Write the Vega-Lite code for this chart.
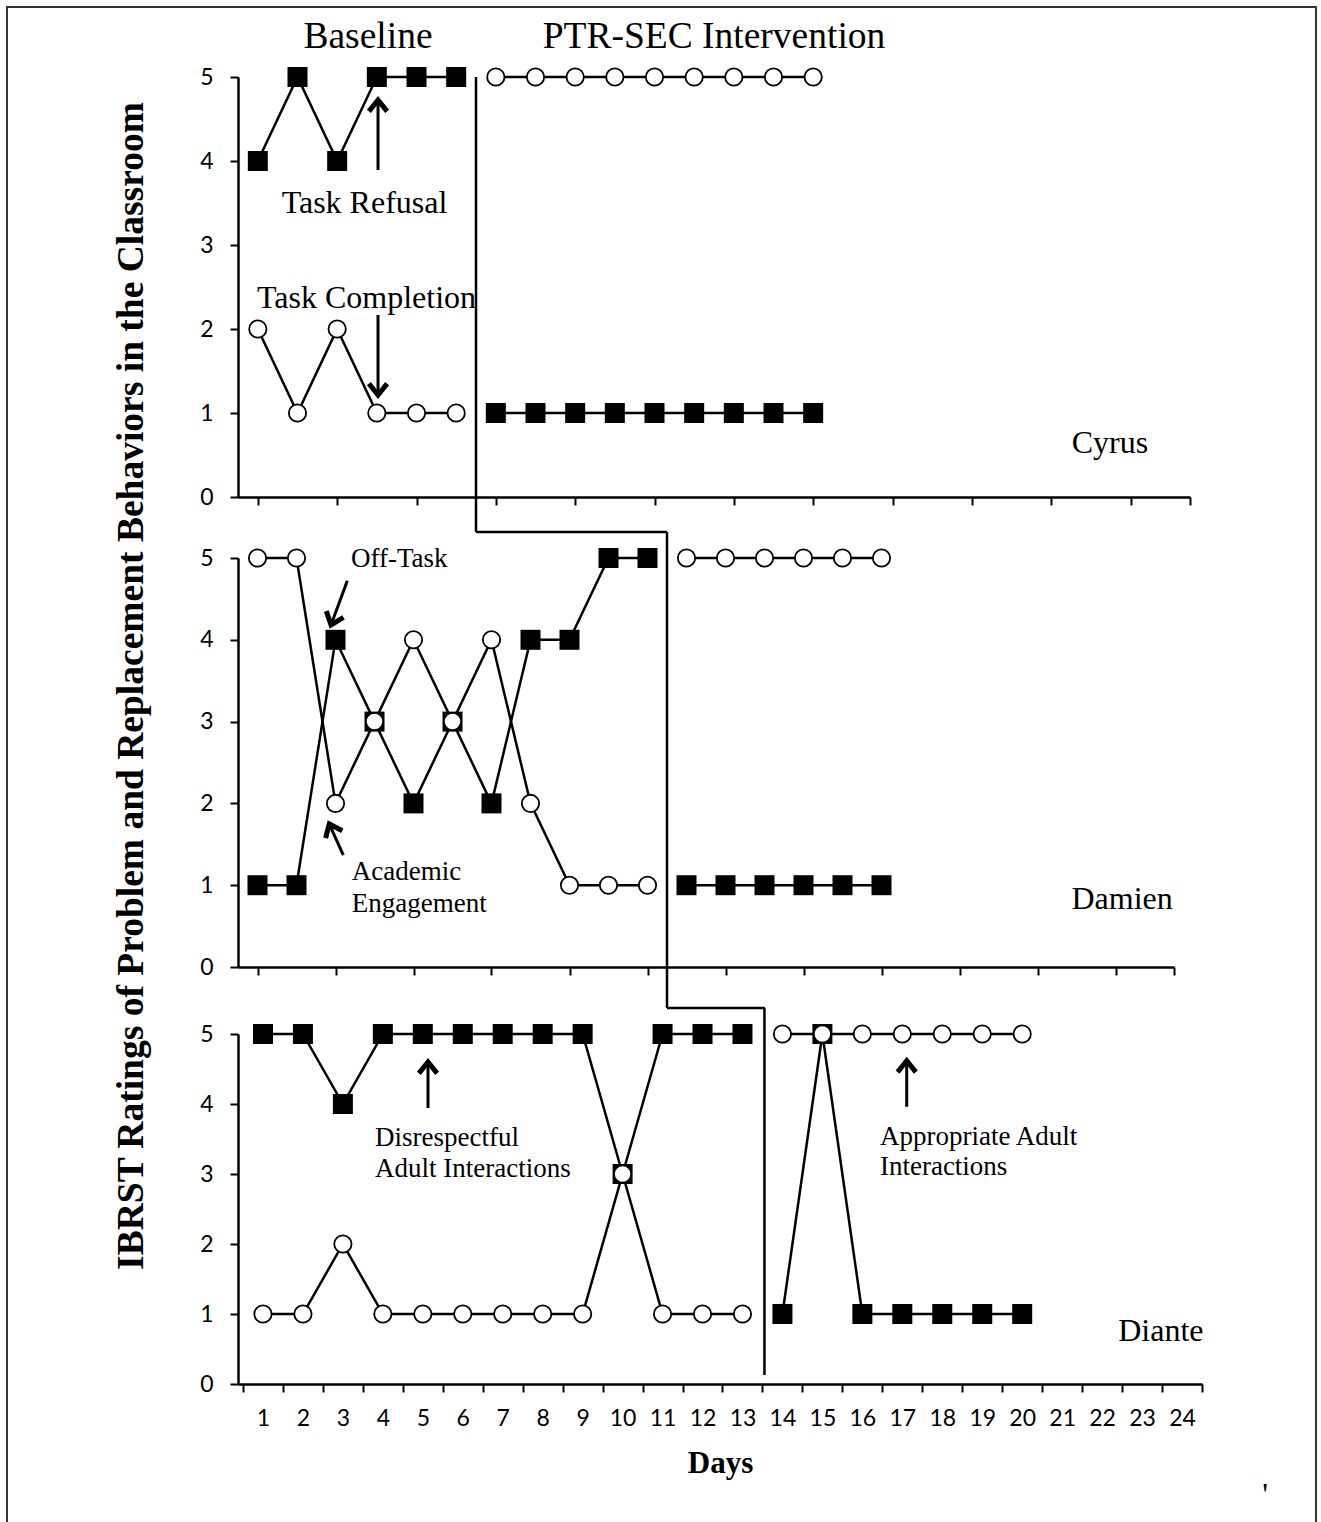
{
  "$schema": "https://vega.github.io/schema/vega-lite/v6.json",
  "padding": 6,
  "background": "white",
  "config": {
    "view": {"stroke": null},
    "axis": {"domainColor": "black", "domainWidth": 2.5, "tickColor": "black", "tickWidth": 2, "tickSize": 8, "labelFont": "Lato", "labelFontSize": 23, "labelColor": "black", "grid": false, "labelFlush": false, "labelOverlap": false}
  },
  "datasets": {
    "series": [
      {"student": "Cyrus", "behavior": "problem", "phase": "baseline", "day": 1, "rating": 4},
      {"student": "Cyrus", "behavior": "problem", "phase": "baseline", "day": 2, "rating": 5},
      {"student": "Cyrus", "behavior": "problem", "phase": "baseline", "day": 3, "rating": 4},
      {"student": "Cyrus", "behavior": "problem", "phase": "baseline", "day": 4, "rating": 5},
      {"student": "Cyrus", "behavior": "problem", "phase": "baseline", "day": 5, "rating": 5},
      {"student": "Cyrus", "behavior": "problem", "phase": "baseline", "day": 6, "rating": 5},
      {"student": "Cyrus", "behavior": "problem", "phase": "intervention", "day": 7, "rating": 1},
      {"student": "Cyrus", "behavior": "problem", "phase": "intervention", "day": 8, "rating": 1},
      {"student": "Cyrus", "behavior": "problem", "phase": "intervention", "day": 9, "rating": 1},
      {"student": "Cyrus", "behavior": "problem", "phase": "intervention", "day": 10, "rating": 1},
      {"student": "Cyrus", "behavior": "problem", "phase": "intervention", "day": 11, "rating": 1},
      {"student": "Cyrus", "behavior": "problem", "phase": "intervention", "day": 12, "rating": 1},
      {"student": "Cyrus", "behavior": "problem", "phase": "intervention", "day": 13, "rating": 1},
      {"student": "Cyrus", "behavior": "problem", "phase": "intervention", "day": 14, "rating": 1},
      {"student": "Cyrus", "behavior": "problem", "phase": "intervention", "day": 15, "rating": 1},
      {"student": "Cyrus", "behavior": "replacement", "phase": "baseline", "day": 1, "rating": 2},
      {"student": "Cyrus", "behavior": "replacement", "phase": "baseline", "day": 2, "rating": 1},
      {"student": "Cyrus", "behavior": "replacement", "phase": "baseline", "day": 3, "rating": 2},
      {"student": "Cyrus", "behavior": "replacement", "phase": "baseline", "day": 4, "rating": 1},
      {"student": "Cyrus", "behavior": "replacement", "phase": "baseline", "day": 5, "rating": 1},
      {"student": "Cyrus", "behavior": "replacement", "phase": "baseline", "day": 6, "rating": 1},
      {"student": "Cyrus", "behavior": "replacement", "phase": "intervention", "day": 7, "rating": 5},
      {"student": "Cyrus", "behavior": "replacement", "phase": "intervention", "day": 8, "rating": 5},
      {"student": "Cyrus", "behavior": "replacement", "phase": "intervention", "day": 9, "rating": 5},
      {"student": "Cyrus", "behavior": "replacement", "phase": "intervention", "day": 10, "rating": 5},
      {"student": "Cyrus", "behavior": "replacement", "phase": "intervention", "day": 11, "rating": 5},
      {"student": "Cyrus", "behavior": "replacement", "phase": "intervention", "day": 12, "rating": 5},
      {"student": "Cyrus", "behavior": "replacement", "phase": "intervention", "day": 13, "rating": 5},
      {"student": "Cyrus", "behavior": "replacement", "phase": "intervention", "day": 14, "rating": 5},
      {"student": "Cyrus", "behavior": "replacement", "phase": "intervention", "day": 15, "rating": 5},
      {"student": "Damien", "behavior": "problem", "phase": "baseline", "day": 1, "rating": 1},
      {"student": "Damien", "behavior": "problem", "phase": "baseline", "day": 2, "rating": 1},
      {"student": "Damien", "behavior": "problem", "phase": "baseline", "day": 3, "rating": 4},
      {"student": "Damien", "behavior": "problem", "phase": "baseline", "day": 4, "rating": 3},
      {"student": "Damien", "behavior": "problem", "phase": "baseline", "day": 5, "rating": 2},
      {"student": "Damien", "behavior": "problem", "phase": "baseline", "day": 6, "rating": 3},
      {"student": "Damien", "behavior": "problem", "phase": "baseline", "day": 7, "rating": 2},
      {"student": "Damien", "behavior": "problem", "phase": "baseline", "day": 8, "rating": 4},
      {"student": "Damien", "behavior": "problem", "phase": "baseline", "day": 9, "rating": 4},
      {"student": "Damien", "behavior": "problem", "phase": "baseline", "day": 10, "rating": 5},
      {"student": "Damien", "behavior": "problem", "phase": "baseline", "day": 11, "rating": 5},
      {"student": "Damien", "behavior": "problem", "phase": "intervention", "day": 12, "rating": 1},
      {"student": "Damien", "behavior": "problem", "phase": "intervention", "day": 13, "rating": 1},
      {"student": "Damien", "behavior": "problem", "phase": "intervention", "day": 14, "rating": 1},
      {"student": "Damien", "behavior": "problem", "phase": "intervention", "day": 15, "rating": 1},
      {"student": "Damien", "behavior": "problem", "phase": "intervention", "day": 16, "rating": 1},
      {"student": "Damien", "behavior": "problem", "phase": "intervention", "day": 17, "rating": 1},
      {"student": "Damien", "behavior": "replacement", "phase": "baseline", "day": 1, "rating": 5},
      {"student": "Damien", "behavior": "replacement", "phase": "baseline", "day": 2, "rating": 5},
      {"student": "Damien", "behavior": "replacement", "phase": "baseline", "day": 3, "rating": 2},
      {"student": "Damien", "behavior": "replacement", "phase": "baseline", "day": 4, "rating": 3},
      {"student": "Damien", "behavior": "replacement", "phase": "baseline", "day": 5, "rating": 4},
      {"student": "Damien", "behavior": "replacement", "phase": "baseline", "day": 6, "rating": 3},
      {"student": "Damien", "behavior": "replacement", "phase": "baseline", "day": 7, "rating": 4},
      {"student": "Damien", "behavior": "replacement", "phase": "baseline", "day": 8, "rating": 2},
      {"student": "Damien", "behavior": "replacement", "phase": "baseline", "day": 9, "rating": 1},
      {"student": "Damien", "behavior": "replacement", "phase": "baseline", "day": 10, "rating": 1},
      {"student": "Damien", "behavior": "replacement", "phase": "baseline", "day": 11, "rating": 1},
      {"student": "Damien", "behavior": "replacement", "phase": "intervention", "day": 12, "rating": 5},
      {"student": "Damien", "behavior": "replacement", "phase": "intervention", "day": 13, "rating": 5},
      {"student": "Damien", "behavior": "replacement", "phase": "intervention", "day": 14, "rating": 5},
      {"student": "Damien", "behavior": "replacement", "phase": "intervention", "day": 15, "rating": 5},
      {"student": "Damien", "behavior": "replacement", "phase": "intervention", "day": 16, "rating": 5},
      {"student": "Damien", "behavior": "replacement", "phase": "intervention", "day": 17, "rating": 5},
      {"student": "Diante", "behavior": "problem", "phase": "baseline", "day": 1, "rating": 5},
      {"student": "Diante", "behavior": "problem", "phase": "baseline", "day": 2, "rating": 5},
      {"student": "Diante", "behavior": "problem", "phase": "baseline", "day": 3, "rating": 4},
      {"student": "Diante", "behavior": "problem", "phase": "baseline", "day": 4, "rating": 5},
      {"student": "Diante", "behavior": "problem", "phase": "baseline", "day": 5, "rating": 5},
      {"student": "Diante", "behavior": "problem", "phase": "baseline", "day": 6, "rating": 5},
      {"student": "Diante", "behavior": "problem", "phase": "baseline", "day": 7, "rating": 5},
      {"student": "Diante", "behavior": "problem", "phase": "baseline", "day": 8, "rating": 5},
      {"student": "Diante", "behavior": "problem", "phase": "baseline", "day": 9, "rating": 5},
      {"student": "Diante", "behavior": "problem", "phase": "baseline", "day": 10, "rating": 3},
      {"student": "Diante", "behavior": "problem", "phase": "baseline", "day": 11, "rating": 5},
      {"student": "Diante", "behavior": "problem", "phase": "baseline", "day": 12, "rating": 5},
      {"student": "Diante", "behavior": "problem", "phase": "baseline", "day": 13, "rating": 5},
      {"student": "Diante", "behavior": "problem", "phase": "intervention", "day": 14, "rating": 1},
      {"student": "Diante", "behavior": "problem", "phase": "intervention", "day": 15, "rating": 5},
      {"student": "Diante", "behavior": "problem", "phase": "intervention", "day": 16, "rating": 1},
      {"student": "Diante", "behavior": "problem", "phase": "intervention", "day": 17, "rating": 1},
      {"student": "Diante", "behavior": "problem", "phase": "intervention", "day": 18, "rating": 1},
      {"student": "Diante", "behavior": "problem", "phase": "intervention", "day": 19, "rating": 1},
      {"student": "Diante", "behavior": "problem", "phase": "intervention", "day": 20, "rating": 1},
      {"student": "Diante", "behavior": "replacement", "phase": "baseline", "day": 1, "rating": 1},
      {"student": "Diante", "behavior": "replacement", "phase": "baseline", "day": 2, "rating": 1},
      {"student": "Diante", "behavior": "replacement", "phase": "baseline", "day": 3, "rating": 2},
      {"student": "Diante", "behavior": "replacement", "phase": "baseline", "day": 4, "rating": 1},
      {"student": "Diante", "behavior": "replacement", "phase": "baseline", "day": 5, "rating": 1},
      {"student": "Diante", "behavior": "replacement", "phase": "baseline", "day": 6, "rating": 1},
      {"student": "Diante", "behavior": "replacement", "phase": "baseline", "day": 7, "rating": 1},
      {"student": "Diante", "behavior": "replacement", "phase": "baseline", "day": 8, "rating": 1},
      {"student": "Diante", "behavior": "replacement", "phase": "baseline", "day": 9, "rating": 1},
      {"student": "Diante", "behavior": "replacement", "phase": "baseline", "day": 10, "rating": 3},
      {"student": "Diante", "behavior": "replacement", "phase": "baseline", "day": 11, "rating": 1},
      {"student": "Diante", "behavior": "replacement", "phase": "baseline", "day": 12, "rating": 1},
      {"student": "Diante", "behavior": "replacement", "phase": "baseline", "day": 13, "rating": 1},
      {"student": "Diante", "behavior": "replacement", "phase": "intervention", "day": 14, "rating": 5},
      {"student": "Diante", "behavior": "replacement", "phase": "intervention", "day": 15, "rating": 5},
      {"student": "Diante", "behavior": "replacement", "phase": "intervention", "day": 16, "rating": 5},
      {"student": "Diante", "behavior": "replacement", "phase": "intervention", "day": 17, "rating": 5},
      {"student": "Diante", "behavior": "replacement", "phase": "intervention", "day": 18, "rating": 5},
      {"student": "Diante", "behavior": "replacement", "phase": "intervention", "day": 19, "rating": 5},
      {"student": "Diante", "behavior": "replacement", "phase": "intervention", "day": 20, "rating": 5}
    ],
    "phaseLines": [
      {"student": "Cyrus", "x": 6.5, "y": 5, "x2": 6.5, "y2": -0.417},
      {"student": "Cyrus", "x": 6.5, "y": -0.417, "x2": 11.315, "y2": -0.417},
      {"student": "Damien", "x": 11.5, "y": 5.318, "x2": 11.5, "y2": -0.501},
      {"student": "Damien", "x": 11.5, "y": -0.501, "x2": 14.01, "y2": -0.501},
      {"student": "Diante", "x": 13.55, "y": 5.371, "x2": 13.55, "y2": 0.129}
    ],
    "frame": [
      {"x": -5.3235, "x2": 27.676, "y": 5.833, "y2": -12.226}
    ],
    "notes": [
      {"student": "Cyrus", "kind": "phase", "text": "Baseline", "x": 3.777, "y": 5.345},
      {"student": "Cyrus", "kind": "phase", "text": "PTR-SEC Intervention", "x": 12.5, "y": 5.345},
      {"student": "Cyrus", "kind": "behavior", "text": "Task Refusal", "x": 3.689, "y": 3.381},
      {"student": "Cyrus", "kind": "behavior", "text": "Task Completion", "x": 3.739, "y": 2.25},
      {"student": "Cyrus", "kind": "name", "text": "Cyrus", "x": 22.48, "y": 0.524},
      {"student": "Damien", "kind": "behavior", "text": "Off-Task", "x": 3.397, "y": 4.89},
      {"student": "Damien", "kind": "behavior", "text": "Academic", "x": 3.415, "y": 1.064},
      {"student": "Damien", "kind": "behavior", "text": "Engagement", "x": 3.415, "y": 0.672},
      {"student": "Damien", "kind": "name", "text": "Damien", "x": 23.17, "y": 0.709},
      {"student": "Damien", "kind": "axisTitle", "text": "IBRST Ratings of Problem and Replacement Behaviors in the Classroom", "x": -2.218, "y": 3.435},
      {"student": "Diante", "kind": "behavior", "text": "Disrespectful", "x": 3.803, "y": 3.4},
      {"student": "Diante", "kind": "behavior", "text": "Adult Interactions", "x": 3.803, "y": 2.957},
      {"student": "Diante", "kind": "behavior", "text": "Appropriate Adult", "x": 16.44, "y": 3.414},
      {"student": "Diante", "kind": "behavior", "text": "Interactions", "x": 16.44, "y": 2.986},
      {"student": "Diante", "kind": "name", "text": "Diante", "x": 23.47, "y": 0.614},
      {"student": "Diante", "kind": "stray", "text": "'", "x": 26.08, "y": -1.73}
    ],
    "arrows": [
      {"student": "Cyrus", "id": "refusal", "x": 4.03, "y": 3.893, "x2": 4.03, "y2": 4.726},
      {"student": "Cyrus", "id": "completion", "x": 4.03, "y": 2.167, "x2": 4.03, "y2": 1.214},
      {"student": "Damien", "id": "offtask", "x": 3.303, "y": 4.723, "x2": 2.885, "y2": 4.181},
      {"student": "Damien", "id": "engagement", "x": 3.2, "y": 1.369, "x2": 2.841, "y2": 1.748},
      {"student": "Diante", "id": "disrespect", "x": 5.13, "y": 3.943, "x2": 5.13, "y2": 4.6},
      {"student": "Diante", "id": "appropriate", "x": 17.11, "y": 3.961, "x2": 17.11, "y2": 4.619}
    ]
  },
  "spacing": 61,
  "bounds": "flush",
  "vconcat": [
    {
      "width": 952,
      "height": 420,
      "layer": [
        {
          "data": {"name": "frame"},
          "mark": {"type": "rect", "filled": false, "stroke": "#333333", "strokeWidth": 2, "clip": false},
          "encoding": {
            "x": {"field": "x", "type": "quantitative", "scale": {"domain": [0.5, 24.5], "nice": false, "zero": false}, "axis": {"title": null}},
            "x2": {"field": "x2"},
            "y": {"field": "y", "type": "quantitative", "scale": {"domain": [0, 5], "nice": false, "zero": false}, "axis": {"title": null}},
            "y2": {"field": "y2"}
          }
        },
        {
          "data": {"name": "series"},
          "transform": [{"filter": "datum.student === 'Cyrus'"}],
          "mark": {"type": "line", "color": "black", "strokeWidth": 2.5, "clip": false},
          "encoding": {
            "x": {"field": "day", "type": "quantitative", "scale": {"domain": [0.5, 24.5], "nice": false, "zero": false}, "axis": {"values": [1,2,3,4,5,6,7,8,9,10,11,12,13,14,15,16,17,18,19,20,21,22,23,24,24.5], "labels": false, "title": null}},
            "y": {"field": "rating", "type": "quantitative", "scale": {"domain": [0, 5], "nice": false, "zero": false}, "axis": {"values": [0,1,2,3,4,5], "format": "d", "title": null, "labelPadding": 17}},
            "detail": [{"field": "behavior"}, {"field": "phase"}]
          }
        },
        {
          "data": {"name": "phaseLines"},
          "transform": [{"filter": "datum.student === 'Cyrus'"}],
          "mark": {"type": "rule", "color": "black", "strokeWidth": 2.5, "clip": false},
          "encoding": {
            "x": {"field": "x", "type": "quantitative", "scale": {"domain": [0.5, 24.5], "nice": false, "zero": false}, "axis": {"title": null}},
            "x2": {"field": "x2"},
            "y": {"field": "y", "type": "quantitative", "scale": {"domain": [0, 5], "nice": false, "zero": false}, "axis": {"title": null}},
            "y2": {"field": "y2"}
          }
        },
        {
          "data": {"name": "series"},
          "transform": [{"filter": "datum.student === 'Cyrus' && datum.behavior === 'problem'"}],
          "mark": {"type": "point", "shape": "square", "filled": true, "color": "black", "opacity": 1, "size": 400, "clip": false},
          "encoding": {
            "x": {"field": "day", "type": "quantitative", "scale": {"domain": [0.5, 24.5], "nice": false, "zero": false}, "axis": {"title": null}},
            "y": {"field": "rating", "type": "quantitative", "scale": {"domain": [0, 5], "nice": false, "zero": false}, "axis": {"title": null}}
          }
        },
        {
          "data": {"name": "series"},
          "transform": [{"filter": "datum.student === 'Cyrus' && datum.behavior === 'replacement'"}],
          "mark": {"type": "point", "shape": "circle", "filled": true, "fill": "white", "stroke": "black", "strokeWidth": 1.8, "opacity": 1, "size": 300, "clip": false},
          "encoding": {
            "x": {"field": "day", "type": "quantitative", "scale": {"domain": [0.5, 24.5], "nice": false, "zero": false}, "axis": {"title": null}},
            "y": {"field": "rating", "type": "quantitative", "scale": {"domain": [0, 5], "nice": false, "zero": false}, "axis": {"title": null}}
          }
        },
        {
          "data": {"name": "notes"},
          "transform": [{"filter": "datum.student === 'Cyrus' && datum.kind === 'phase'"}],
          "mark": {"type": "text", "font": "Liberation Serif", "fontSize": 37.5, "align": "center", "baseline": "alphabetic", "color": "black", "clip": false},
          "encoding": {
            "x": {"field": "x", "type": "quantitative", "scale": {"domain": [0.5, 24.5], "nice": false, "zero": false}, "axis": {"title": null}},
            "y": {"field": "y", "type": "quantitative", "scale": {"domain": [0, 5], "nice": false, "zero": false}, "axis": {"title": null}},
            "text": {"field": "text"}
          }
        },
        {
          "data": {"name": "notes"},
          "transform": [{"filter": "datum.student === 'Cyrus' && datum.kind === 'behavior'"}],
          "mark": {"type": "text", "font": "Liberation Serif", "fontSize": 32, "align": "center", "baseline": "alphabetic", "color": "black", "clip": false},
          "encoding": {
            "x": {"field": "x", "type": "quantitative", "scale": {"domain": [0.5, 24.5], "nice": false, "zero": false}, "axis": {"title": null}},
            "y": {"field": "y", "type": "quantitative", "scale": {"domain": [0, 5], "nice": false, "zero": false}, "axis": {"title": null}},
            "text": {"field": "text"}
          }
        },
        {
          "data": {"name": "notes"},
          "transform": [{"filter": "datum.student === 'Cyrus' && datum.kind === 'name'"}],
          "mark": {"type": "text", "font": "Liberation Serif", "fontSize": 32, "align": "center", "baseline": "alphabetic", "color": "black", "clip": false},
          "encoding": {
            "x": {"field": "x", "type": "quantitative", "scale": {"domain": [0.5, 24.5], "nice": false, "zero": false}, "axis": {"title": null}},
            "y": {"field": "y", "type": "quantitative", "scale": {"domain": [0, 5], "nice": false, "zero": false}, "axis": {"title": null}},
            "text": {"field": "text"}
          }
        },
        {
          "data": {"name": "arrows"},
          "transform": [{"filter": "datum.student === 'Cyrus'"}],
          "mark": {"type": "rule", "color": "black", "strokeWidth": 3, "clip": false},
          "encoding": {
            "x": {"field": "x", "type": "quantitative", "scale": {"domain": [0.5, 24.5], "nice": false, "zero": false}, "axis": {"title": null}},
            "x2": {"field": "x2"},
            "y": {"field": "y", "type": "quantitative", "scale": {"domain": [0, 5], "nice": false, "zero": false}, "axis": {"title": null}},
            "y2": {"field": "y2"}
          }
        },
        {
          "data": {"name": "arrows"},
          "transform": [{"filter": "datum.id === 'refusal'"}],
          "mark": {"type": "point", "shape": "M-0.8,1L0,0L0.8,1", "filled": false, "stroke": "black", "strokeWidth": 5, "opacity": 1, "size": 520, "angle": 0, "clip": false},
          "encoding": {
            "x": {"field": "x2", "type": "quantitative", "scale": {"domain": [0.5, 24.5], "nice": false, "zero": false}, "axis": {"title": null}},
            "y": {"field": "y2", "type": "quantitative", "scale": {"domain": [0, 5], "nice": false, "zero": false}, "axis": {"title": null}}
          }
        },
        {
          "data": {"name": "arrows"},
          "transform": [{"filter": "datum.id === 'completion'"}],
          "mark": {"type": "point", "shape": "M-0.8,1L0,0L0.8,1", "filled": false, "stroke": "black", "strokeWidth": 5, "opacity": 1, "size": 520, "angle": 180, "clip": false},
          "encoding": {
            "x": {"field": "x2", "type": "quantitative", "scale": {"domain": [0.5, 24.5], "nice": false, "zero": false}, "axis": {"title": null}},
            "y": {"field": "y2", "type": "quantitative", "scale": {"domain": [0, 5], "nice": false, "zero": false}, "axis": {"title": null}}
          }
        }
      ]
    },
    {
      "spacing": 67,
      "bounds": "flush",
      "vconcat": [
        {
          "width": 936,
          "height": 409,
          "layer": [
            {
              "data": {"name": "series"},
              "transform": [{"filter": "datum.student === 'Damien'"}],
              "mark": {"type": "line", "color": "black", "strokeWidth": 2.5, "clip": false},
              "encoding": {
                "x": {"field": "day", "type": "quantitative", "scale": {"domain": [0.5, 24.5], "nice": false, "zero": false}, "axis": {"values": [1,2,3,4,5,6,7,8,9,10,11,12,13,14,15,16,17,18,19,20,21,22,23,24,24.5], "labels": false, "title": null}},
                "y": {"field": "rating", "type": "quantitative", "scale": {"domain": [0, 5], "nice": false, "zero": false}, "axis": {"values": [0,1,2,3,4,5], "format": "d", "title": null, "labelPadding": 17}},
                "detail": [{"field": "behavior"}, {"field": "phase"}]
              }
            },
            {
              "data": {"name": "phaseLines"},
              "transform": [{"filter": "datum.student === 'Damien'"}],
              "mark": {"type": "rule", "color": "black", "strokeWidth": 2.5, "clip": false},
              "encoding": {
                "x": {"field": "x", "type": "quantitative", "scale": {"domain": [0.5, 24.5], "nice": false, "zero": false}, "axis": {"title": null}},
                "x2": {"field": "x2"},
                "y": {"field": "y", "type": "quantitative", "scale": {"domain": [0, 5], "nice": false, "zero": false}, "axis": {"title": null}},
                "y2": {"field": "y2"}
              }
            },
            {
              "data": {"name": "series"},
              "transform": [{"filter": "datum.student === 'Damien' && datum.behavior === 'problem'"}],
              "mark": {"type": "point", "shape": "square", "filled": true, "color": "black", "opacity": 1, "size": 400, "clip": false},
              "encoding": {
                "x": {"field": "day", "type": "quantitative", "scale": {"domain": [0.5, 24.5], "nice": false, "zero": false}, "axis": {"title": null}},
                "y": {"field": "rating", "type": "quantitative", "scale": {"domain": [0, 5], "nice": false, "zero": false}, "axis": {"title": null}}
              }
            },
            {
              "data": {"name": "series"},
              "transform": [{"filter": "datum.student === 'Damien' && datum.behavior === 'replacement'"}],
              "mark": {"type": "point", "shape": "circle", "filled": true, "fill": "white", "stroke": "black", "strokeWidth": 1.8, "opacity": 1, "size": 300, "clip": false},
              "encoding": {
                "x": {"field": "day", "type": "quantitative", "scale": {"domain": [0.5, 24.5], "nice": false, "zero": false}, "axis": {"title": null}},
                "y": {"field": "rating", "type": "quantitative", "scale": {"domain": [0, 5], "nice": false, "zero": false}, "axis": {"title": null}}
              }
            },
            {
              "data": {"name": "notes"},
              "transform": [{"filter": "datum.student === 'Damien' && datum.kind === 'behavior'"}],
              "mark": {"type": "text", "font": "Liberation Serif", "fontSize": 27, "align": "left", "baseline": "alphabetic", "color": "black", "clip": false},
              "encoding": {
                "x": {"field": "x", "type": "quantitative", "scale": {"domain": [0.5, 24.5], "nice": false, "zero": false}, "axis": {"title": null}},
                "y": {"field": "y", "type": "quantitative", "scale": {"domain": [0, 5], "nice": false, "zero": false}, "axis": {"title": null}},
                "text": {"field": "text"}
              }
            },
            {
              "data": {"name": "notes"},
              "transform": [{"filter": "datum.student === 'Damien' && datum.kind === 'name'"}],
              "mark": {"type": "text", "font": "Liberation Serif", "fontSize": 32, "align": "center", "baseline": "alphabetic", "color": "black", "clip": false},
              "encoding": {
                "x": {"field": "x", "type": "quantitative", "scale": {"domain": [0.5, 24.5], "nice": false, "zero": false}, "axis": {"title": null}},
                "y": {"field": "y", "type": "quantitative", "scale": {"domain": [0, 5], "nice": false, "zero": false}, "axis": {"title": null}},
                "text": {"field": "text"}
              }
            },
            {
              "data": {"name": "notes"},
              "transform": [{"filter": "datum.kind === 'axisTitle'"}],
              "mark": {"type": "text", "font": "Liberation Serif", "fontWeight": "bold", "fontSize": 37.5, "angle": 270, "align": "center", "baseline": "middle", "color": "black", "clip": false},
              "encoding": {
                "x": {"field": "x", "type": "quantitative", "scale": {"domain": [0.5, 24.5], "nice": false, "zero": false}, "axis": {"title": null}},
                "y": {"field": "y", "type": "quantitative", "scale": {"domain": [0, 5], "nice": false, "zero": false}, "axis": {"title": null}},
                "text": {"field": "text"}
              }
            },
            {
              "data": {"name": "arrows"},
              "transform": [{"filter": "datum.student === 'Damien'"}],
              "mark": {"type": "rule", "color": "black", "strokeWidth": 3, "clip": false},
              "encoding": {
                "x": {"field": "x", "type": "quantitative", "scale": {"domain": [0.5, 24.5], "nice": false, "zero": false}, "axis": {"title": null}},
                "x2": {"field": "x2"},
                "y": {"field": "y", "type": "quantitative", "scale": {"domain": [0, 5], "nice": false, "zero": false}, "axis": {"title": null}},
                "y2": {"field": "y2"}
              }
            },
            {
              "data": {"name": "arrows"},
              "transform": [{"filter": "datum.id === 'offtask'"}],
              "mark": {"type": "point", "shape": "M-0.8,1L0,0L0.8,1", "filled": false, "stroke": "black", "strokeWidth": 5, "opacity": 1, "size": 520, "angle": 200, "clip": false},
              "encoding": {
                "x": {"field": "x2", "type": "quantitative", "scale": {"domain": [0.5, 24.5], "nice": false, "zero": false}, "axis": {"title": null}},
                "y": {"field": "y2", "type": "quantitative", "scale": {"domain": [0, 5], "nice": false, "zero": false}, "axis": {"title": null}}
              }
            },
            {
              "data": {"name": "arrows"},
              "transform": [{"filter": "datum.id === 'engagement'"}],
              "mark": {"type": "point", "shape": "M-0.8,1L0,0L0.8,1", "filled": false, "stroke": "black", "strokeWidth": 5, "opacity": 1, "size": 520, "angle": 336, "clip": false},
              "encoding": {
                "x": {"field": "x2", "type": "quantitative", "scale": {"domain": [0.5, 24.5], "nice": false, "zero": false}, "axis": {"title": null}},
                "y": {"field": "y2", "type": "quantitative", "scale": {"domain": [0, 5], "nice": false, "zero": false}, "axis": {"title": null}}
              }
            }
          ]
        },
        {
          "width": 964,
          "height": 350,
          "layer": [
            {
              "data": {"name": "series"},
              "transform": [{"filter": "datum.student === 'Diante'"}],
              "mark": {"type": "line", "color": "black", "strokeWidth": 2.5, "clip": false},
              "encoding": {
                "x": {"field": "day", "type": "quantitative", "scale": {"domain": [0.375, 24.5], "nice": false, "zero": false}, "axis": {"values": [0.5,1.5,2.5,3.5,4.5,5.5,6.5,7.5,8.5,9.5,10.5,11.5,12.5,13.5,14.5,15.5,16.5,17.5,18.5,19.5,20.5,21.5,22.5,23.5,24.5], "labelExpr": "datum.value < 24 ? format(datum.value + 0.5, 'd') : ''", "labelOffset": 20, "labelPadding": 15, "title": "Days", "titleFont": "Liberation Serif", "titleFontWeight": "bold", "titleFontSize": 31, "titleColor": "black", "titlePadding": 18}},
                "y": {"field": "rating", "type": "quantitative", "scale": {"domain": [0, 5], "nice": false, "zero": false}, "axis": {"values": [0,1,2,3,4,5], "format": "d", "title": null, "labelPadding": 17}},
                "detail": [{"field": "behavior"}, {"field": "phase"}]
              }
            },
            {
              "data": {"name": "phaseLines"},
              "transform": [{"filter": "datum.student === 'Diante'"}],
              "mark": {"type": "rule", "color": "black", "strokeWidth": 2.5, "clip": false},
              "encoding": {
                "x": {"field": "x", "type": "quantitative", "scale": {"domain": [0.375, 24.5], "nice": false, "zero": false}, "axis": {"title": "Days"}},
                "x2": {"field": "x2"},
                "y": {"field": "y", "type": "quantitative", "scale": {"domain": [0, 5], "nice": false, "zero": false}, "axis": {"title": null}},
                "y2": {"field": "y2"}
              }
            },
            {
              "data": {"name": "series"},
              "transform": [{"filter": "datum.student === 'Diante' && datum.behavior === 'problem'"}],
              "mark": {"type": "point", "shape": "square", "filled": true, "color": "black", "opacity": 1, "size": 400, "clip": false},
              "encoding": {
                "x": {"field": "day", "type": "quantitative", "scale": {"domain": [0.375, 24.5], "nice": false, "zero": false}, "axis": {"title": "Days"}},
                "y": {"field": "rating", "type": "quantitative", "scale": {"domain": [0, 5], "nice": false, "zero": false}, "axis": {"title": null}}
              }
            },
            {
              "data": {"name": "series"},
              "transform": [{"filter": "datum.student === 'Diante' && datum.behavior === 'replacement'"}],
              "mark": {"type": "point", "shape": "circle", "filled": true, "fill": "white", "stroke": "black", "strokeWidth": 1.8, "opacity": 1, "size": 300, "clip": false},
              "encoding": {
                "x": {"field": "day", "type": "quantitative", "scale": {"domain": [0.375, 24.5], "nice": false, "zero": false}, "axis": {"title": "Days"}},
                "y": {"field": "rating", "type": "quantitative", "scale": {"domain": [0, 5], "nice": false, "zero": false}, "axis": {"title": null}}
              }
            },
            {
              "data": {"name": "notes"},
              "transform": [{"filter": "datum.student === 'Diante' && datum.kind === 'behavior'"}],
              "mark": {"type": "text", "font": "Liberation Serif", "fontSize": 27, "align": "left", "baseline": "alphabetic", "color": "black", "clip": false},
              "encoding": {
                "x": {"field": "x", "type": "quantitative", "scale": {"domain": [0.375, 24.5], "nice": false, "zero": false}, "axis": {"title": "Days"}},
                "y": {"field": "y", "type": "quantitative", "scale": {"domain": [0, 5], "nice": false, "zero": false}, "axis": {"title": null}},
                "text": {"field": "text"}
              }
            },
            {
              "data": {"name": "notes"},
              "transform": [{"filter": "datum.student === 'Diante' && (datum.kind === 'name' || datum.kind === 'stray')"}],
              "mark": {"type": "text", "font": "Liberation Serif", "fontSize": 32, "align": "center", "baseline": "alphabetic", "color": "black", "clip": false},
              "encoding": {
                "x": {"field": "x", "type": "quantitative", "scale": {"domain": [0.375, 24.5], "nice": false, "zero": false}, "axis": {"title": "Days"}},
                "y": {"field": "y", "type": "quantitative", "scale": {"domain": [0, 5], "nice": false, "zero": false}, "axis": {"title": null}},
                "text": {"field": "text"}
              }
            },
            {
              "data": {"name": "arrows"},
              "transform": [{"filter": "datum.student === 'Diante'"}],
              "mark": {"type": "rule", "color": "black", "strokeWidth": 3, "clip": false},
              "encoding": {
                "x": {"field": "x", "type": "quantitative", "scale": {"domain": [0.375, 24.5], "nice": false, "zero": false}, "axis": {"title": "Days"}},
                "x2": {"field": "x2"},
                "y": {"field": "y", "type": "quantitative", "scale": {"domain": [0, 5], "nice": false, "zero": false}, "axis": {"title": null}},
                "y2": {"field": "y2"}
              }
            },
            {
              "data": {"name": "arrows"},
              "transform": [{"filter": "datum.student === 'Diante'"}],
              "mark": {"type": "point", "shape": "M-0.8,1L0,0L0.8,1", "filled": false, "stroke": "black", "strokeWidth": 5, "opacity": 1, "size": 520, "angle": 0, "clip": false},
              "encoding": {
                "x": {"field": "x2", "type": "quantitative", "scale": {"domain": [0.375, 24.5], "nice": false, "zero": false}, "axis": {"title": "Days"}},
                "y": {"field": "y2", "type": "quantitative", "scale": {"domain": [0, 5], "nice": false, "zero": false}, "axis": {"title": null}}
              }
            }
          ]
        }
      ]
    }
  ]
}
